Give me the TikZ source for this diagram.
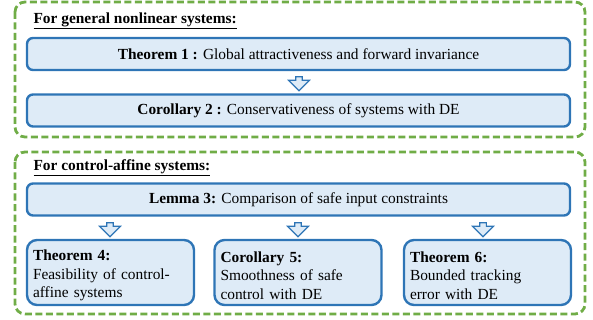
\documentclass[tikz,border=0pt]{standalone}
\usepackage{fontspec}
\setmainfont{Liberation Serif}
\usetikzlibrary{shapes.arrows}
\definecolor{boxblue}{RGB}{46,117,182}
\definecolor{boxfill}{RGB}{222,235,247}
\definecolor{groupgreen}{RGB}{112,173,71}
\begin{document}
\begin{tikzpicture}[x=1pt, y=-1pt, font=\fontsize{15.4}{18.5}\selectfont,
                    group box/.style={draw=groupgreen,line width=2.8pt,dash pattern=on 7pt off 3.5pt,rounded corners=10pt},
                    wide node/.style={rectangle,draw=boxblue,fill=boxfill,line width=2.4pt,rounded corners=6pt,minimum width=543pt,minimum height=32pt},
                    small node/.style={rectangle,draw=boxblue,fill=boxfill,line width=2.4pt,rounded corners=10pt,minimum width=167pt,minimum height=65pt,text width=155pt,align=left,inner sep=2pt,execute at begin node={\rule{0pt}{17pt}}},
                    down arrow/.style={single arrow,draw=boxblue,fill=boxfill,line width=1.2pt,shape border rotate=270,minimum width=21pt,minimum height=14pt,single arrow head extend=4.5pt,inner sep=1.5pt}]

  \useasboundingbox (0,0) rectangle (593,320);

  % dashed groups
  \draw[group box] (15,2) rectangle (585,137);
  \draw[group box] (15,152) rectangle (585,314);

  \node[anchor=west] (h1) at (30,21) {\underline{\textbf{For general nonlinear systems:}}};
  \node[anchor=west] (h2) at (30,168) {\underline{\textbf{For control-affine systems:}}};

  \node[wide node] (1) at (298.5,54) {\textbf{Theorem 1 :} Global attractiveness and forward invariance};
  \node[wide node] (2) at (298.5,110.5) {\textbf{Corollary 2 :} Conservativeness of systems with DE};
  \node[wide node] (3) at (298.5,199.5) {\textbf{Lemma 3:} Comparison of safe input constraints};
  \node[small node] (4) at (110.5,272.5) {\textbf{Theorem 4:}\\Feasibility of control-\\affine systems};
  \node[small node] (5) at (298,272.5) {\textbf{Corollary 5:}\\Smoothness of safe\\control with DE};
  \node[small node] (6) at (487.5,272.5) {\textbf{Theorem 6:}\\Bounded tracking\\error with DE};

  % block arrows
  \node[down arrow] (a12) at (299,82) {};
  \node[down arrow] (a34) at (110,228) {};
  \node[down arrow] (a35) at (298,228) {};
  \node[down arrow] (a36) at (483,228) {};

\end{tikzpicture}
\end{document}
